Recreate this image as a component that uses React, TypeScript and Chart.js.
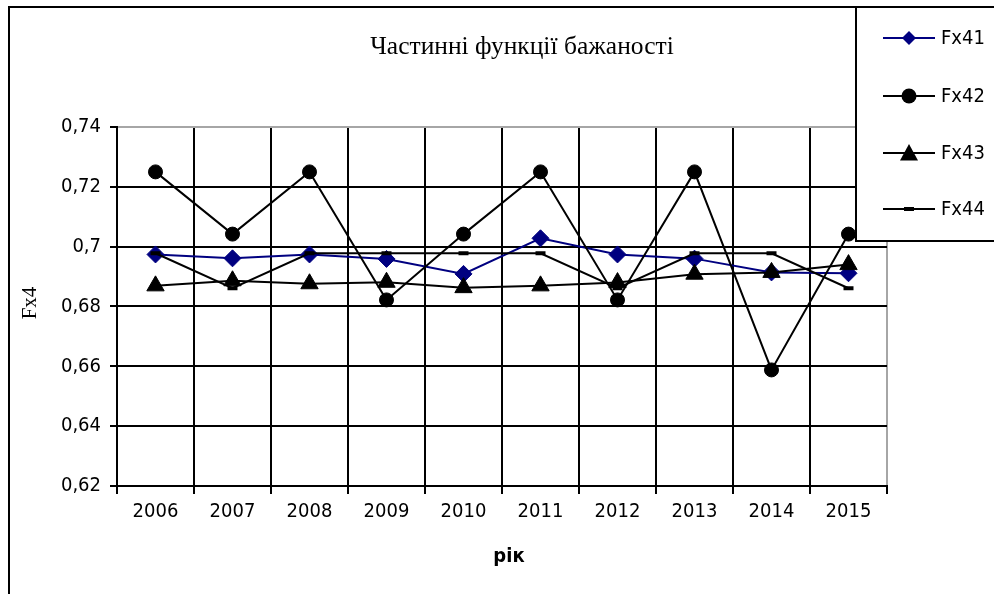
import React, { useEffect, useRef } from "react";
import { Chart, registerables } from "chart.js";

Chart.register(...registerables);

const title = "Частинні функції бажаності";
const xTitle = "рік";
const yTitle = "Fx4";
const years = ["2006", "2007", "2008", "2009", "2010", "2011", "2012", "2013", "2014", "2015"];
const seriesNames = ["Fx41", "Fx42", "Fx43", "Fx44"];
const fx41 = [0.6974, 0.6961, 0.6974, 0.6959, 0.6909, 0.7028, 0.6974, 0.696, 0.6914, 0.6911];
const fx42 = [0.725, 0.7042, 0.725, 0.6822, 0.7042, 0.725, 0.6822, 0.725, 0.6588, 0.7042];
const fx43 = [0.6869, 0.6886, 0.6876, 0.6881, 0.6863, 0.6869, 0.688, 0.6908, 0.6914, 0.694];
const fx44 = [0.6978, 0.6861, 0.6978, 0.6978, 0.6978, 0.6978, 0.6861, 0.6978, 0.6978, 0.6861];
const yMin = 0.62;
const yMax = 0.74;
const yStep = 0.02;

const NAVY = "#000080";
const BLACK = "#000000";
const GRAY = "#a6a6a6";
const SANS = '"DejaVu Sans Condensed", "DejaVu Sans", sans-serif';
const SERIF = '"Liberation Serif", "Times New Roman", serif';

const seriesColors = [NAVY, BLACK, BLACK, BLACK];
const seriesMarkers = ["diamond", "circle", "triangle", "dash"];

function drawMarker(ctx: CanvasRenderingContext2D, kind: string, x: number, y: number, color: string) {
  ctx.save();
  ctx.fillStyle = color;
  ctx.strokeStyle = color;
  ctx.lineWidth = 1;
  ctx.beginPath();
  if (kind === "diamond") {
    const r = 7;
    ctx.moveTo(x, y - r);
    ctx.lineTo(x + r, y);
    ctx.lineTo(x, y + r);
    ctx.lineTo(x - r, y);
    ctx.closePath();
    ctx.fill();
  } else if (kind === "circle") {
    ctx.arc(x, y, 7.5, 0, Math.PI * 2);
    ctx.fill();
  } else if (kind === "triangle") {
    ctx.moveTo(x, y - 9);
    ctx.lineTo(x + 9, y + 7.5);
    ctx.lineTo(x - 9, y + 7.5);
    ctx.closePath();
    ctx.fill();
  } else {
    ctx.fillRect(x - 5, y - 2, 10, 4);
  }
  ctx.restore();
}

const decorPlugin = {
  id: "decor",
  afterDraw(chart: any) {
    const ctx: CanvasRenderingContext2D = chart.ctx;
    ctx.save();
    ctx.fillStyle = BLACK;
    // chart title
    ctx.font = `25.5px ${SERIF}`;
    ctx.textAlign = "center";
    ctx.textBaseline = "alphabetic";
    ctx.fillText(title, 522, 54);
    // x axis title
    ctx.font = `bold 20px ${SANS}`;
    ctx.fillText(xTitle, 509, 562);
    // y axis title
    ctx.save();
    ctx.translate(30, 303);
    ctx.rotate(-Math.PI / 2);
    ctx.font = `21px ${SERIF}`;
    ctx.textBaseline = "middle";
    ctx.fillText(yTitle, 0, 0);
    ctx.restore();
    // outer frame
    ctx.strokeStyle = BLACK;
    ctx.lineWidth = 2;
    ctx.beginPath();
    ctx.moveTo(9, 600);
    ctx.lineTo(9, 7);
    ctx.lineTo(1000, 7);
    ctx.stroke();
    // legend box
    ctx.fillStyle = "#ffffff";
    ctx.fillRect(856, 7, 150, 234);
    ctx.beginPath();
    ctx.moveTo(1000, 7);
    ctx.lineTo(856, 7);
    ctx.lineTo(856, 241);
    ctx.lineTo(1000, 241);
    ctx.stroke();
    const ys = [38, 96, 153, 209];
    seriesNames.forEach((name, i) => {
      const y = ys[i];
      ctx.strokeStyle = seriesColors[i];
      ctx.lineWidth = 2;
      ctx.beginPath();
      ctx.moveTo(883, y);
      ctx.lineTo(935, y);
      ctx.stroke();
      drawMarker(ctx, seriesMarkers[i], 909, y, seriesColors[i]);
      ctx.fillStyle = BLACK;
      ctx.font = `20px ${SANS}`;
      ctx.textAlign = "left";
      ctx.textBaseline = "middle";
      ctx.fillText(name, 941, y + 1);
    });
    ctx.restore();
  },
};

export default function App() {
  const ref = useRef<HTMLCanvasElement | null>(null);
  useEffect(() => {
    document.body.style.margin = "0";
    const canvas = ref.current;
    if (!canvas) return;
    const common = { borderWidth: 2, pointBorderWidth: 1, pointHoverRadius: 7 };
    const chart = new Chart(canvas, {
      type: "line",
      data: {
        labels: years,
        datasets: [
          {
            ...common,
            label: seriesNames[0],
            data: fx41,
            borderColor: NAVY,
            backgroundColor: NAVY,
            pointBackgroundColor: NAVY,
            pointBorderColor: NAVY,
            pointStyle: "rectRot",
            pointRadius: 8.5,
            order: 4,
          },
          {
            ...common,
            label: seriesNames[1],
            data: fx42,
            borderColor: BLACK,
            backgroundColor: BLACK,
            pointBackgroundColor: BLACK,
            pointBorderColor: BLACK,
            pointStyle: "circle",
            pointRadius: 7,
            order: 3,
          },
          {
            ...common,
            label: seriesNames[2],
            data: fx43,
            borderColor: BLACK,
            backgroundColor: BLACK,
            pointBackgroundColor: BLACK,
            pointBorderColor: BLACK,
            pointStyle: "triangle",
            pointRadius: 10,
            order: 2,
          },
          {
            ...common,
            label: seriesNames[3],
            data: fx44,
            borderColor: BLACK,
            backgroundColor: BLACK,
            pointBackgroundColor: BLACK,
            pointBorderColor: BLACK,
            pointStyle: "line",
            pointRadius: 5,
            pointBorderWidth: 4,
            order: 1,
          },
        ],
      },
      options: {
        animation: false,
        responsive: false,
        devicePixelRatio: 1,
        layout: { padding: { left: 0, top: 127, right: 107, bottom: 0 } },
        plugins: {
          legend: { display: false },
          title: { display: false },
          tooltip: { enabled: false },
        },
        elements: { line: { tension: 0 } },
        scales: {
          x: {
            type: "category",
            offset: true,
            afterFit(scale: any) {
              scale.height = 108;
            },
            grid: {
              offset: true,
              color: (c: any) => (c.tick ? BLACK : GRAY),
              tickColor: BLACK,
              lineWidth: 2,
              tickLength: 8,
              drawTicks: true,
            },
            border: { color: BLACK, width: 2 },
            ticks: {
              color: BLACK,
              font: { family: SANS, size: 20 },
              padding: 6,
              autoSkip: false,
              maxRotation: 0,
            },
          },
          y: {
            type: "linear",
            min: yMin,
            max: yMax,
            afterFit(scale: any) {
              scale.width = 117;
            },
            grid: {
              color: (c: any) => (c.tick && Math.abs(c.tick.value - yMax) < 1e-9 ? GRAY : BLACK),
              tickColor: BLACK,
              lineWidth: 2,
              tickLength: 7,
              drawTicks: true,
            },
            border: { color: BLACK, width: 2 },
            ticks: {
              stepSize: yStep,
              color: BLACK,
              font: { family: SANS, size: 20 },
              padding: 9,
              callback: (v: any) => String(Math.round(Number(v) * 100) / 100).replace(".", ","),
            },
          },
        },
      },
      plugins: [decorPlugin],
    });
    return () => chart.destroy();
  }, []);
  return (
    <div style={{ width: 994, height: 594 }}>
      <canvas ref={ref} width={994} height={594} style={{ display: "block", width: 994, height: 594 }} />
    </div>
  );
}
